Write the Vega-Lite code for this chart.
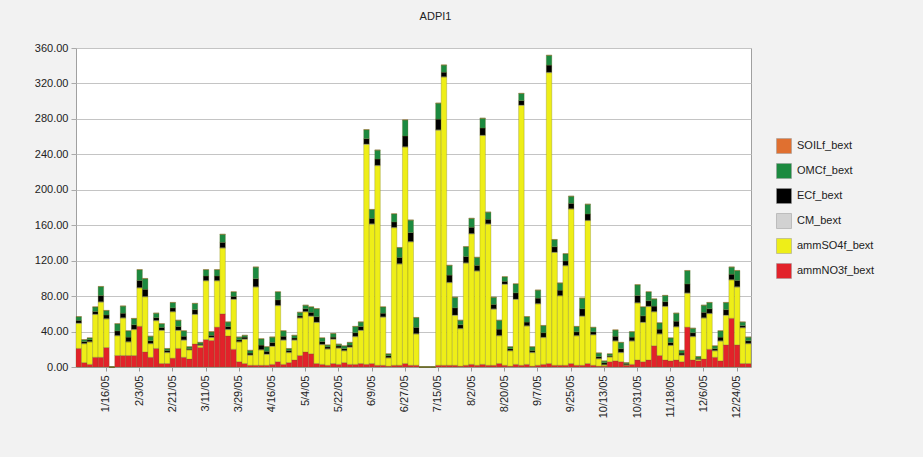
{
  "$schema": "https://vega.github.io/schema/vega-lite/v6.json",
  "autosize": {"type": "none"},
  "width": 675,
  "height": 319,
  "padding": {"left": 76, "top": 48, "right": 172, "bottom": 90},
  "background": "#F2F2F2",
  "title": {"text": "ADPI1", "font": "Liberation Sans", "fontSize": 11, "fontWeight": "normal", "color": "#222222", "offset": 20, "dx": 22},
  "config": {
    "view": {"fill": "white", "stroke": "#A0A0A0"},
    "font": "Liberation Sans"
  },
  "data": {"values": [
    {"d":"1/1/05","N":21,"S":28.2,"C":0.5,"E":3,"O":4,"L":0.3},
    {"d":"1/4/05","N":5,"S":21.2,"C":0.5,"E":2,"O":2,"L":0.3},
    {"d":"1/7/05","N":3,"S":25.2,"C":0.5,"E":2,"O":2,"L":0.3},
    {"d":"1/10/05","N":11,"S":48.2,"C":0.5,"E":3,"O":5,"L":0.3},
    {"d":"1/13/05","N":11,"S":62.2,"C":0.5,"E":7,"O":10,"L":0.3},
    {"d":"1/16/05","N":22,"S":32.2,"C":0.5,"E":4,"O":5,"L":0.3},
    {"d":"1/19/05","N":0,"S":0,"C":0,"E":0,"O":0,"L":0},
    {"d":"1/22/05","N":13,"S":22.2,"C":0.5,"E":5,"O":8,"L":0.3},
    {"d":"1/25/05","N":13,"S":42.2,"C":0.5,"E":5,"O":8,"L":0.3},
    {"d":"1/28/05","N":13,"S":15.2,"C":0.5,"E":5,"O":7,"L":0.3},
    {"d":"1/31/05","N":13,"S":29.2,"C":0.5,"E":5,"O":7,"L":0.3},
    {"d":"2/3/05","N":46,"S":43.2,"C":0.5,"E":8,"O":12,"L":0.3},
    {"d":"2/6/05","N":17,"S":62.2,"C":0.5,"E":8,"O":12,"L":0.3},
    {"d":"2/9/05","N":11,"S":15.2,"C":0.5,"E":3,"O":5,"L":0.3},
    {"d":"2/12/05","N":21,"S":31.2,"C":0.5,"E":3,"O":5,"L":0.3},
    {"d":"2/15/05","N":4,"S":37.2,"C":0.5,"E":3,"O":4,"L":0.3},
    {"d":"2/18/05","N":4,"S":12.2,"C":0.5,"E":2,"O":2,"L":0.3},
    {"d":"2/21/05","N":10,"S":52.2,"C":0.5,"E":4,"O":6,"L":0.3},
    {"d":"2/24/05","N":21,"S":20.2,"C":0.5,"E":4,"O":7,"L":0.3},
    {"d":"2/27/05","N":11,"S":19.2,"C":0.5,"E":4,"O":6,"L":0.3},
    {"d":"3/2/05","N":9,"S":10.2,"C":0.5,"E":1,"O":2,"L":0.3},
    {"d":"3/5/05","N":26,"S":33.2,"C":0.5,"E":5,"O":7,"L":0.3},
    {"d":"3/8/05","N":22,"S":2.2,"C":0.5,"E":1,"O":2,"L":0.3},
    {"d":"3/11/05","N":31,"S":66.2,"C":0.5,"E":5,"O":7,"L":0.3},
    {"d":"3/14/05","N":30,"S":3.2,"C":0.5,"E":2,"O":4,"L":0.3},
    {"d":"3/17/05","N":45,"S":52.2,"C":0.5,"E":5,"O":7,"L":0.3},
    {"d":"3/20/05","N":60,"S":74.2,"C":0.5,"E":6,"O":9,"L":0.3},
    {"d":"3/23/05","N":35,"S":7.2,"C":0.5,"E":3,"O":5,"L":0.3},
    {"d":"3/26/05","N":20,"S":56.2,"C":0.5,"E":3,"O":5,"L":0.3},
    {"d":"3/29/05","N":6,"S":22.2,"C":0.5,"E":2,"O":3,"L":0.3},
    {"d":"4/1/05","N":4,"S":27.2,"C":0.5,"E":2,"O":2,"L":0.3},
    {"d":"4/4/05","N":2,"S":11.2,"C":0.5,"E":2,"O":3,"L":0.3},
    {"d":"4/7/05","N":2,"S":88.2,"C":0.5,"E":9,"O":13,"L":0.3},
    {"d":"4/10/05","N":2,"S":17.2,"C":0.5,"E":5,"O":7,"L":0.3},
    {"d":"4/13/05","N":2,"S":12.2,"C":0.5,"E":3,"O":5,"L":0.3},
    {"d":"4/16/05","N":3,"S":20.2,"C":0.5,"E":4,"O":6,"L":0.3},
    {"d":"4/19/05","N":6,"S":63.2,"C":0.5,"E":6,"O":9,"L":0.3},
    {"d":"4/22/05","N":3,"S":27.2,"C":0.5,"E":4,"O":6,"L":0.3},
    {"d":"4/25/05","N":5,"S":11.2,"C":0.5,"E":2,"O":2,"L":0.3},
    {"d":"4/28/05","N":8,"S":22.2,"C":0.5,"E":2,"O":3,"L":0.3},
    {"d":"5/1/05","N":13,"S":42.2,"C":0.5,"E":2,"O":4,"L":0.3},
    {"d":"5/4/05","N":17,"S":45.2,"C":0.5,"E":3,"O":4,"L":0.3},
    {"d":"5/7/05","N":15,"S":42.2,"C":0.5,"E":4,"O":6,"L":0.3},
    {"d":"5/10/05","N":4,"S":46.2,"C":0.5,"E":6,"O":9,"L":0.3},
    {"d":"5/13/05","N":3,"S":22.2,"C":0.5,"E":3,"O":4,"L":0.3},
    {"d":"5/16/05","N":2,"S":18.2,"C":0.5,"E":2,"O":2,"L":0.3},
    {"d":"5/19/05","N":4,"S":27.2,"C":0.5,"E":2,"O":4,"L":0.3},
    {"d":"5/22/05","N":3,"S":18.2,"C":0.5,"E":2,"O":2,"L":0.3},
    {"d":"5/25/05","N":5,"S":13.2,"C":0.5,"E":2,"O":3,"L":0.3},
    {"d":"5/28/05","N":3,"S":19.2,"C":0.5,"E":2,"O":3,"L":0.3},
    {"d":"5/31/05","N":3,"S":31.2,"C":0.5,"E":4,"O":7,"L":0.3},
    {"d":"6/3/05","N":4,"S":37.2,"C":0.5,"E":4,"O":5,"L":0.3},
    {"d":"6/6/05","N":3,"S":248.2,"C":0.5,"E":6,"O":10,"L":0.3},
    {"d":"6/9/05","N":4,"S":157.2,"C":0.5,"E":6,"O":10,"L":0.3},
    {"d":"6/12/05","N":2,"S":225.2,"C":0.5,"E":7,"O":10,"L":0.3},
    {"d":"6/15/05","N":2,"S":54.2,"C":0.5,"E":4,"O":7,"L":0.3},
    {"d":"6/18/05","N":1,"S":9.2,"C":0.5,"E":2,"O":2,"L":0.3},
    {"d":"6/21/05","N":2,"S":155.2,"C":0.5,"E":6,"O":9,"L":0.3},
    {"d":"6/24/05","N":2,"S":114.2,"C":0.5,"E":7,"O":11,"L":0.3},
    {"d":"6/27/05","N":4,"S":244.2,"C":0.5,"E":12,"O":18,"L":0.3},
    {"d":"6/30/05","N":2,"S":139.2,"C":0.5,"E":10,"O":14,"L":0.3},
    {"d":"7/3/05","N":2,"S":35.2,"C":0.5,"E":7,"O":11,"L":0.3},
    {"d":"7/6/05","N":0,"S":0,"C":0,"E":0,"O":0,"L":0},
    {"d":"7/9/05","N":0,"S":0,"C":0,"E":0,"O":0,"L":0},
    {"d":"7/12/05","N":0,"S":0,"C":0,"E":0,"O":0,"L":0},
    {"d":"7/15/05","N":2,"S":265.2,"C":0.5,"E":12,"O":18,"L":0.3},
    {"d":"7/18/05","N":2,"S":325.2,"C":0.5,"E":5,"O":8,"L":0.3},
    {"d":"7/21/05","N":2,"S":93.2,"C":0.5,"E":8,"O":11,"L":0.3},
    {"d":"7/24/05","N":2,"S":56.2,"C":0.5,"E":8,"O":12,"L":0.3},
    {"d":"7/27/05","N":1,"S":42.2,"C":0.5,"E":4,"O":5,"L":0.3},
    {"d":"7/30/05","N":2,"S":115.2,"C":0.5,"E":7,"O":11,"L":0.3},
    {"d":"8/2/05","N":3,"S":147.2,"C":0.5,"E":7,"O":10,"L":0.3},
    {"d":"8/5/05","N":2,"S":106.2,"C":0.5,"E":6,"O":9,"L":0.3},
    {"d":"8/8/05","N":3,"S":258.2,"C":0.5,"E":8,"O":11,"L":0.3},
    {"d":"8/11/05","N":2,"S":159.2,"C":0.5,"E":5,"O":8,"L":0.3},
    {"d":"8/14/05","N":2,"S":63.2,"C":0.5,"E":5,"O":8,"L":0.3},
    {"d":"8/17/05","N":4,"S":31.2,"C":0.5,"E":7,"O":10,"L":0.3},
    {"d":"8/20/05","N":2,"S":91.2,"C":0.5,"E":3,"O":5,"L":0.3},
    {"d":"8/23/05","N":1,"S":17.2,"C":0.5,"E":2,"O":2,"L":0.3},
    {"d":"8/26/05","N":3,"S":73.2,"C":0.5,"E":7,"O":10,"L":0.3},
    {"d":"8/29/05","N":2,"S":293.2,"C":0.5,"E":5,"O":8,"L":0.3},
    {"d":"9/1/05","N":3,"S":43.2,"C":0.5,"E":4,"O":6,"L":0.3},
    {"d":"9/4/05","N":1,"S":15.2,"C":0.5,"E":2,"O":4,"L":0.3},
    {"d":"9/7/05","N":2,"S":69.2,"C":0.5,"E":6,"O":9,"L":0.3},
    {"d":"9/10/05","N":3,"S":30.2,"C":0.5,"E":5,"O":8,"L":0.3},
    {"d":"9/13/05","N":4,"S":328.2,"C":0.5,"E":8,"O":11,"L":0.3},
    {"d":"9/16/05","N":2,"S":127.2,"C":0.5,"E":6,"O":8,"L":0.3},
    {"d":"9/19/05","N":2,"S":78.2,"C":0.5,"E":6,"O":8,"L":0.3},
    {"d":"9/22/05","N":2,"S":112.2,"C":0.5,"E":5,"O":8,"L":0.3},
    {"d":"9/25/05","N":4,"S":174.2,"C":0.5,"E":6,"O":8,"L":0.3},
    {"d":"9/28/05","N":2,"S":33.2,"C":0.5,"E":4,"O":6,"L":0.3},
    {"d":"10/1/05","N":2,"S":55.2,"C":0.5,"E":8,"O":12,"L":0.3},
    {"d":"10/4/05","N":4,"S":161.2,"C":0.5,"E":7,"O":11,"L":0.3},
    {"d":"10/7/05","N":2,"S":34.2,"C":0.5,"E":3,"O":5,"L":0.3},
    {"d":"10/10/05","N":1,"S":8.2,"C":0.5,"E":2,"O":4,"L":0.3},
    {"d":"10/13/05","N":1,"S":1.2,"C":0.5,"E":2,"O":2,"L":0.3},
    {"d":"10/16/05","N":6,"S":5.2,"C":0.5,"E":1,"O":2,"L":0.3},
    {"d":"10/19/05","N":7,"S":22.2,"C":0.5,"E":5,"O":7,"L":0.3},
    {"d":"10/22/05","N":6,"S":10.2,"C":0.5,"E":4,"O":7,"L":0.3},
    {"d":"10/25/05","N":2,"S":0.2,"C":0.5,"E":1,"O":1,"L":0.3},
    {"d":"10/28/05","N":3,"S":26.2,"C":0.5,"E":4,"O":6,"L":0.3},
    {"d":"10/31/05","N":8,"S":64.2,"C":0.5,"E":8,"O":12,"L":0.3},
    {"d":"11/3/05","N":6,"S":44.2,"C":0.5,"E":7,"O":10,"L":0.3},
    {"d":"11/6/05","N":8,"S":60.2,"C":0.5,"E":6,"O":10,"L":0.3},
    {"d":"11/9/05","N":24,"S":38.2,"C":0.5,"E":6,"O":8,"L":0.3},
    {"d":"11/12/05","N":13,"S":24.2,"C":0.5,"E":5,"O":7,"L":0.3},
    {"d":"11/15/05","N":8,"S":60.2,"C":0.5,"E":5,"O":7,"L":0.3},
    {"d":"11/18/05","N":7,"S":17.2,"C":0.5,"E":3,"O":5,"L":0.3},
    {"d":"11/21/05","N":8,"S":37.2,"C":0.5,"E":6,"O":9,"L":0.3},
    {"d":"11/24/05","N":6,"S":7.2,"C":0.5,"E":2,"O":3,"L":0.3},
    {"d":"11/27/05","N":45,"S":38.2,"C":0.5,"E":10,"O":15,"L":0.3},
    {"d":"11/30/05","N":8,"S":26.2,"C":0.5,"E":4,"O":5,"L":0.3},
    {"d":"12/3/05","N":7,"S":1.2,"C":0.5,"E":1,"O":2,"L":0.3},
    {"d":"12/6/05","N":9,"S":46.2,"C":0.5,"E":6,"O":8,"L":0.3},
    {"d":"12/9/05","N":20,"S":40.2,"C":0.5,"E":5,"O":7,"L":0.3},
    {"d":"12/12/05","N":11,"S":7.2,"C":0.5,"E":2,"O":3,"L":0.3},
    {"d":"12/15/05","N":7,"S":22.2,"C":0.5,"E":4,"O":7,"L":0.3},
    {"d":"12/18/05","N":25,"S":33.2,"C":0.5,"E":6,"O":8,"L":0.3},
    {"d":"12/21/05","N":55,"S":43.2,"C":0.5,"E":6,"O":8,"L":0.3},
    {"d":"12/24/05","N":25,"S":65.2,"C":0.5,"E":7,"O":11,"L":0.3},
    {"d":"12/27/05","N":4,"S":40.2,"C":0.5,"E":2,"O":4,"L":0.3},
    {"d":"12/30/05","N":4,"S":22.2,"C":0.5,"E":3,"O":4,"L":0.3}
  ]},
  "transform": [
    {"fold": ["N", "S", "C", "E", "O", "L"], "as": ["k", "v"]},
    {"lookup": "k", "from": {"data": {"values": [
      {"k": "N", "label": "ammNO3f_bext", "rank": 1},
      {"k": "S", "label": "ammSO4f_bext", "rank": 2},
      {"k": "C", "label": "CM_bext", "rank": 3},
      {"k": "E", "label": "ECf_bext", "rank": 4},
      {"k": "O", "label": "OMCf_bext", "rank": 5},
      {"k": "L", "label": "SOILf_bext", "rank": 6}
    ]}, "key": "k", "fields": ["label", "rank"]}}
  ],
  "mark": {"type": "bar", "stroke": "#6B6B20", "strokeWidth": 0.5, "strokeOpacity": 0.55},
  "encoding": {
    "x": {
      "field": "d", "type": "ordinal", "sort": null,
      "scale": {"paddingInner": 0, "paddingOuter": 0},
      "axis": {
        "title": null,
        "values": ["1/16/05","2/3/05","2/21/05","3/11/05","3/29/05","4/16/05","5/4/05","5/22/05","6/9/05","6/27/05","7/15/05","8/2/05","8/20/05","9/7/05","9/25/05","10/13/05","10/31/05","11/18/05","12/6/05","12/24/05"],
        "labelAngle": 270, "labelAlign": "right", "labelBaseline": "middle",
        "labelFontSize": 11, "labelColor": "#222222", "labelPadding": 4,
        "tickSize": 4, "tickColor": "#999999", "domainColor": "#A0A0A0", "grid": false
      }
    },
    "y": {
      "field": "v", "type": "quantitative", "stack": "zero",
      "scale": {"domain": [0, 360], "nice": false},
      "axis": {
        "title": null,
        "values": [0, 40, 80, 120, 160, 200, 240, 280, 320, 360],
        "format": ".2f", "labelFontSize": 11, "labelColor": "#222222",
        "grid": true, "gridColor": "#C4C4C4", "domain": false,
        "tickSize": 5, "tickColor": "#AAAAAA", "labelPadding": 3
      }
    },
    "color": {
      "field": "label", "type": "nominal",
      "scale": {
        "domain": ["SOILf_bext", "OMCf_bext", "ECf_bext", "CM_bext", "ammSO4f_bext", "ammNO3f_bext"],
        "range": ["#E07030", "#1C8A40", "#000000", "#D2D2D2", "#EEEE18", "#E2222A"]
      },
      "legend": {
        "title": null, "orient": "none", "legendX": 700, "legendY": 90,
        "symbolType": "square", "symbolSize": 225, "symbolStrokeColor": "#999999", "symbolStrokeWidth": 0.5,
        "labelFontSize": 11, "labelColor": "#222222", "rowPadding": 7, "padding": 0, "labelOffset": 5
      }
    },
    "order": {"field": "rank", "type": "quantitative", "sort": "ascending"}
  }
}
